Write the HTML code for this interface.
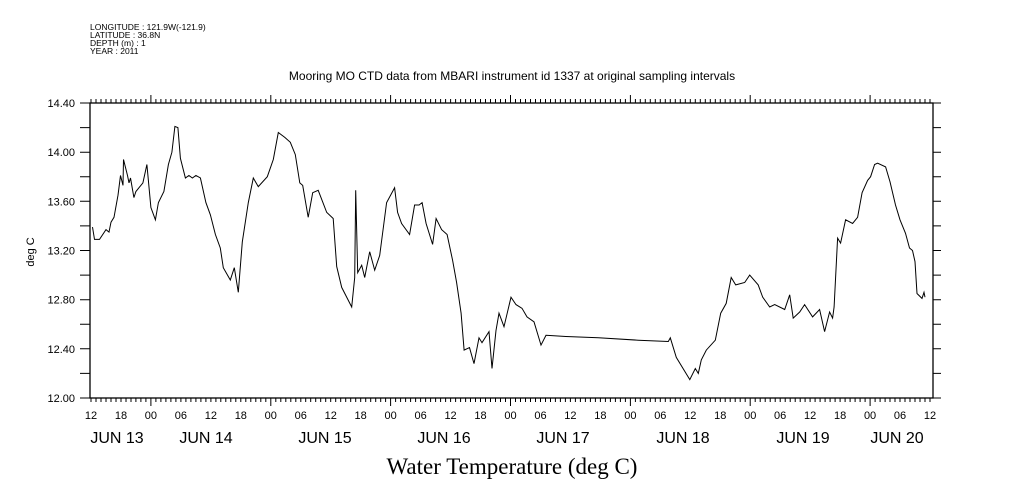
<!DOCTYPE html>
<html><head><meta charset="utf-8"><style>
body{margin:0;background:#fff}
svg{display:block;font-family:"Liberation Sans",sans-serif}
</style></head><body>
<svg id="chart" width="1009" height="504" viewBox="0 0 1009 504" xmlns="http://www.w3.org/2000/svg">
<rect width="1009" height="504" fill="#fff"/>
<g font-size="8.5" fill="#000">
<text x="90" y="30">LONGITUDE : 121.9W(-121.9)</text>
<text x="90" y="38">LATITUDE : 36.8N</text>
<text x="90" y="46">DEPTH (m) : 1</text>
<text x="90" y="54">YEAR : 2011</text>
</g>
<text x="512" y="80" font-size="12" text-anchor="middle">Mooring MO CTD data from MBARI instrument id 1337 at original sampling intervals</text>
<text x="0" y="0" font-size="11" text-anchor="middle" transform="translate(34,252) rotate(-90)">deg C</text>
<text x="512" y="474" font-family="Liberation Serif,serif" font-size="23" text-anchor="middle">Water Temperature (deg C)</text>
<rect x="90" y="103" width="843" height="295" fill="none" stroke="#000" stroke-width="1.3"/>
<g id="axes"></g>
<g id="series"></g>
</svg>
<script>
const hours=[0.3,0.7,1.7,3.0,3.6,4.0,4.6,5.4,5.9,6.4,6.5,7.3,7.6,7.9,8.6,9.0,9.6,10.4,11.2,12.0,12.9,13.5,14.6,15.5,16.2,16.8,17.4,17.9,18.9,19.6,20.3,21.0,21.9,23.0,23.9,24.9,25.9,26.5,27.9,28.7,29.5,30.3,31.5,32.5,33.5,35.3,36.5,37.5,38.8,39.9,40.9,41.8,42.4,43.5,44.4,45.5,47.2,48.5,49.2,50.2,52.2,52.8,53.0,53.4,54.2,54.8,55.8,56.8,57.8,59.2,60.8,61.4,62.2,63.8,64.8,65.7,66.3,67.1,68.4,69.1,70.2,71.3,72.4,73.2,74.1,74.7,75.8,76.7,77.7,78.3,79.7,80.3,81.1,81.7,82.7,84.1,85.1,86.3,87.3,88.7,90.1,91.1,95.1,101.6,109.6,115.6,116.0,117.2,119.9,121.0,121.6,122.2,123.2,125.0,126.1,127.2,128.2,129.1,130.9,131.9,133.6,134.5,135.9,136.9,138.9,139.9,140.6,141.9,142.9,144.5,145.9,146.9,147.9,148.5,148.8,149.5,150.1,151.1,152.5,153.5,154.4,155.5,156.1,156.9,157.5,159.1,160.0,161.1,162.0,163.1,163.9,164.5,165.0,165.4,166.4,166.8,167.0];
const temps=[13.39,13.29,13.29,13.37,13.35,13.43,13.47,13.65,13.81,13.73,13.94,13.81,13.75,13.79,13.63,13.68,13.71,13.75,13.90,13.55,13.45,13.59,13.68,13.90,14.00,14.21,14.20,13.95,13.79,13.81,13.79,13.81,13.79,13.59,13.49,13.33,13.22,13.06,12.96,13.06,12.86,13.27,13.59,13.79,13.72,13.80,13.94,14.16,14.12,14.08,13.98,13.75,13.73,13.47,13.67,13.69,13.51,13.46,13.07,12.90,12.74,12.98,13.69,13.02,13.08,12.98,13.19,13.04,13.16,13.59,13.71,13.51,13.42,13.33,13.57,13.57,13.59,13.42,13.25,13.46,13.37,13.33,13.12,12.94,12.69,12.39,12.41,12.28,12.49,12.45,12.54,12.24,12.55,12.69,12.58,12.82,12.76,12.73,12.66,12.62,12.43,12.51,12.50,12.49,12.47,12.46,12.49,12.33,12.15,12.24,12.20,12.31,12.39,12.47,12.69,12.77,12.98,12.92,12.94,13.00,12.92,12.82,12.74,12.76,12.72,12.84,12.65,12.70,12.76,12.66,12.72,12.54,12.70,12.65,12.74,13.30,13.26,13.45,13.42,13.47,13.67,13.77,13.80,13.90,13.91,13.88,13.76,13.57,13.45,13.34,13.22,13.20,13.11,12.85,12.81,12.86,12.82];
const yTicks=["12.00","12.40","12.80","13.20","13.60","14.00","14.40"];
const hourLabels=["12","18","00","06","12","18","00","06","12","18","00","06","12","18","00","06","12","18","00","06","12","18","00","06","12","18","00","06","12"];
const dayLabels=["JUN 13","JUN 14","JUN 15","JUN 16","JUN 17","JUN 18","JUN 19","JUN 20"];

const XA=91,PXH=839/168,Y0=398,Y1=103,T0=12,T1=14.4,X0=90,X1=933;
const xs=h=>XA+h*PXH;
const ys=t=>Y0-(t-T0)/(T1-T0)*(Y0-Y1);
const NS="http://www.w3.org/2000/svg";
const axes=document.getElementById('axes'),series=document.getElementById('series');
function mk(tag,at,parent){const e=document.createElementNS(NS,tag);for(const k in at)e.setAttribute(k,at[k]);parent.appendChild(e);return e;}

let d="";
for(let h=0;h<=168;h++){const x=xs(h).toFixed(1);const L=((h+12)%24===0)?8:4;
 d+=`M${x} ${Y0}v${L}M${x} ${Y1}v${-L}`;}
for(let i=0;i<=12;i++){const y=ys(12+i*0.2).toFixed(1);d+=`M${X0} ${y}h-10M${X1} ${y}h8`;}
const tk=mk('path',{d:d,stroke:'#000','stroke-width':1,fill:'none'},axes);



yTicks.forEach(v=>{const t=mk('text',{x:75,y:ys(+v)+4,'font-size':11,'text-anchor':'end'},axes);t.textContent=v;
 
 });
hourLabels.forEach((v,i)=>{const t=mk('text',{x:xs(i*6),y:419,'font-size':11,'text-anchor':'middle'},axes);t.textContent=v;
 
 });
const dayX=[117,206,325,444,563,683,803,897];
dayLabels.forEach((v,i)=>{const t=mk('text',{x:dayX[i],y:443,'font-size':16,'text-anchor':'middle'},axes);t.textContent=v;
 
 });

const pts=hours.map((h,i)=>xs(h).toFixed(1)+','+ys(temps[i]).toFixed(1)).join(' ');
const line=mk('polyline',{points:pts,fill:'none',stroke:'#000','stroke-width':1},series);


</script>
</body></html>
